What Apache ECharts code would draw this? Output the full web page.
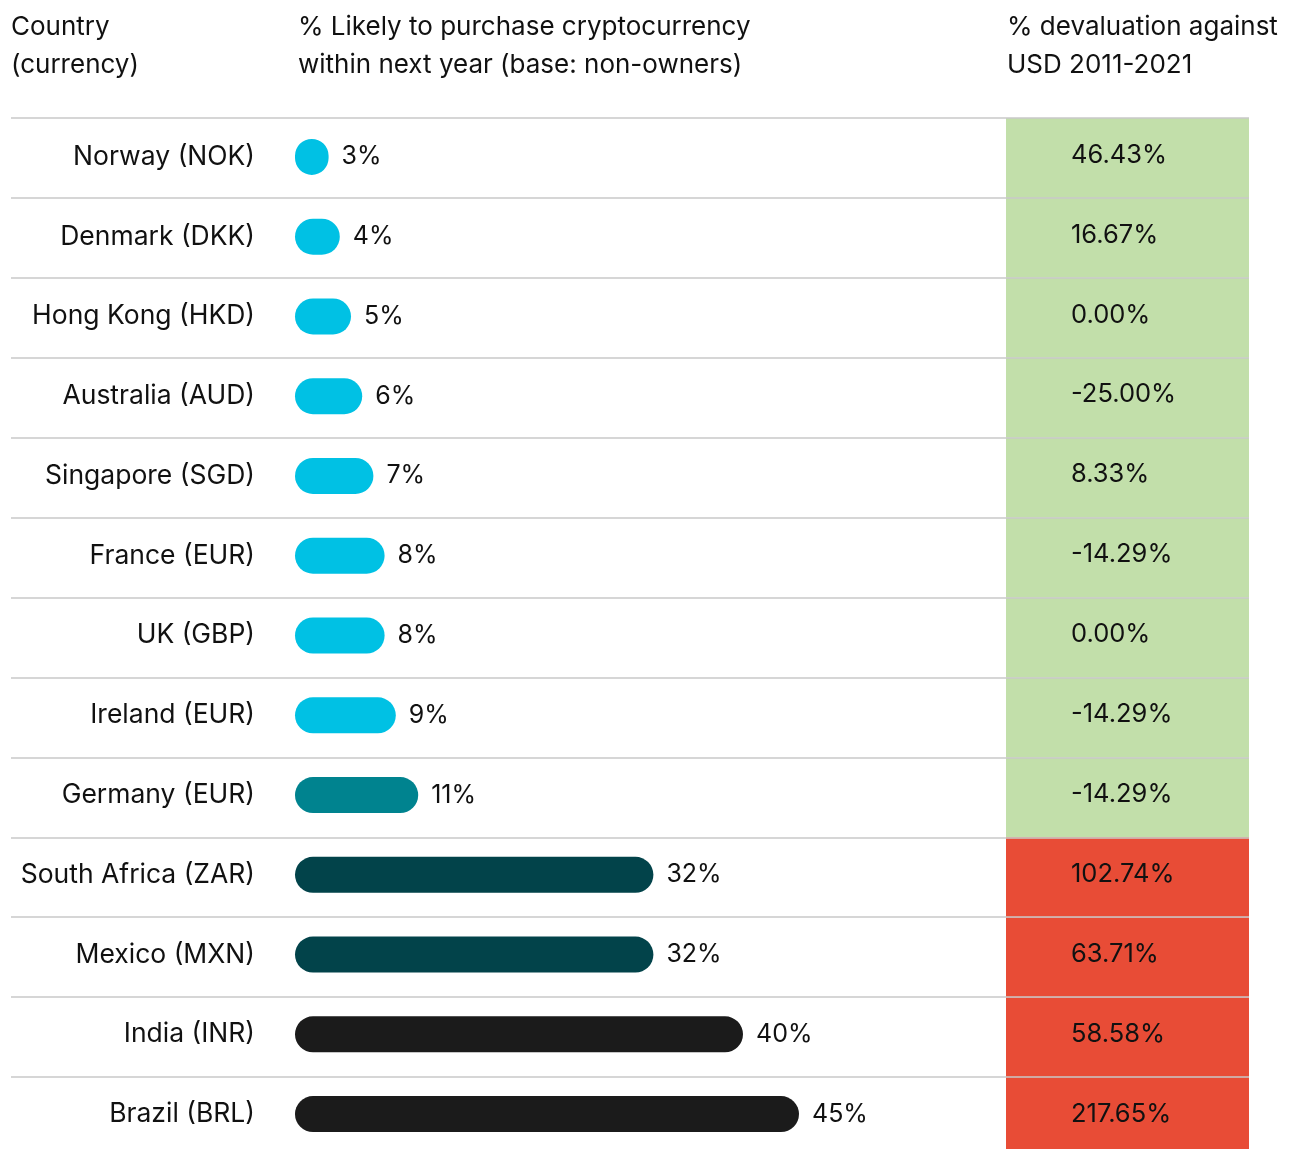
<!DOCTYPE html>
<html>
<head>
<meta charset="utf-8">
<script src="https://cdn.jsdelivr.net/npm/echarts@6/dist/echarts.min.js"></script>
<style>
  html, body { margin: 0; padding: 0; background: #fff; overflow: hidden; }
  #chart { width: 1294px; height: 1160px; }
</style>
</head>
<body>
<div id="chart"></div>
<script>
const countries = ['Norway (NOK)', 'Denmark (DKK)', 'Hong Kong (HKD)', 'Australia (AUD)', 'Singapore (SGD)', 'France (EUR)', 'UK (GBP)', 'Ireland (EUR)', 'Germany (EUR)', 'South Africa (ZAR)', 'Mexico (MXN)', 'India (INR)', 'Brazil (BRL)'];
const likelyPct = [3, 4, 5, 6, 7, 8, 8, 9, 11, 32, 32, 40, 45];
const barTier = [0, 0, 0, 0, 0, 0, 0, 0, 1, 2, 2, 3, 3];
const devaluationPct = [46.43, 16.67, 0.00, -25.00, 8.33, -14.29, 0.00, -14.29, -14.29, 102.74, 63.71, 58.58, 217.65];
const devaluationHigh = [0, 0, 0, 0, 0, 0, 0, 0, 0, 1, 1, 1, 1];
const headers = ['Country\n(currency)', '% Likely to purchase cryptocurrency\nwithin next year (base: non-owners)', '% devaluation against\nUSD 2011-2021'];

const barPalette = ['#00C1E4', '#00838F', '#02434A', '#1B1B1B'];
const cellPalette = ['#C2DFAA', '#E84C36'];
const FONT = 'Inter, "Noto Sans", sans-serif';
const TXT = '#111111';

const chart = echarts.init(document.getElementById('chart'), null, { renderer: 'canvas' });

const headerStyle = { fontFamily: FONT, fontSize: 26, fontWeight: 'normal', color: TXT, lineHeight: 38 };

chart.setOption({
  animation: false,
  backgroundColor: '#ffffff',
  title: [
    { text: headers[0], left: 11, top: 8, padding: 0, textStyle: headerStyle },
    { text: headers[1], left: 298, top: 8, padding: 0, textStyle: headerStyle },
    { text: headers[2], left: 1007, top: 8, padding: 0, textStyle: headerStyle }
  ],
  grid: [
    { left: 295, top: 117, width: 560, height: 1037, containLabel: false },
    { left: 1006, top: 118, width: 243, height: 1039, containLabel: false },
    { left: 11, top: 118, width: 1238, height: 1039, containLabel: false }
  ],
  xAxis: [
    { gridIndex: 0, type: 'value', min: 0, max: 50, show: false },
    { gridIndex: 1, type: 'value', min: 0, max: 1, show: false },
    { gridIndex: 2, type: 'value', min: 0, max: 1, show: false }
  ],
  yAxis: [
    {
      gridIndex: 0, type: 'category', data: countries, inverse: true,
      axisLine: { show: false }, axisTick: { show: false }, splitLine: { show: false },
      axisLabel: { margin: 40, fontFamily: FONT, fontSize: 26.5, color: TXT, padding: [0, 0, 6, 0] }
    },
    {
      gridIndex: 1, type: 'category', data: countries, inverse: true,
      axisLine: { show: false }, axisTick: { show: false }, splitLine: { show: false },
      axisLabel: { show: false }
    },
    {
      gridIndex: 2, type: 'category', data: countries, inverse: true, z: 10,
      axisLine: { show: false }, axisTick: { show: false }, axisLabel: { show: false },
      splitLine: { show: true, lineStyle: { color: '#c9c9c9', width: 1.5 } }
    }
  ],
  series: [
    {
      type: 'bar', xAxisIndex: 0, yAxisIndex: 0,
      barWidth: 36,
      data: likelyPct.map((v, i) => ({ value: v, itemStyle: { color: barPalette[barTier[i]] } })),
      itemStyle: { borderRadius: 18 },
      label: {
        show: true, position: 'right', distance: 13,
        fontFamily: FONT, fontSize: 25, color: TXT, padding: [0, 0, 4, 0],
        formatter: p => p.value + '%'
      }
    },
    {
      type: 'bar', xAxisIndex: 1, yAxisIndex: 1,
      barWidth: '100%', barCategoryGap: 0,
      data: devaluationPct.map((v, i) => ({ value: 1, itemStyle: { color: cellPalette[devaluationHigh[i]] } })),
      label: {
        show: true, position: [65, 37], align: 'left', verticalAlign: 'middle',
        fontFamily: FONT, fontSize: 25.5, color: TXT,
        formatter: p => devaluationPct[p.dataIndex].toFixed(2) + '%'
      }
    }
  ]
});
</script>
</body>
</html>
